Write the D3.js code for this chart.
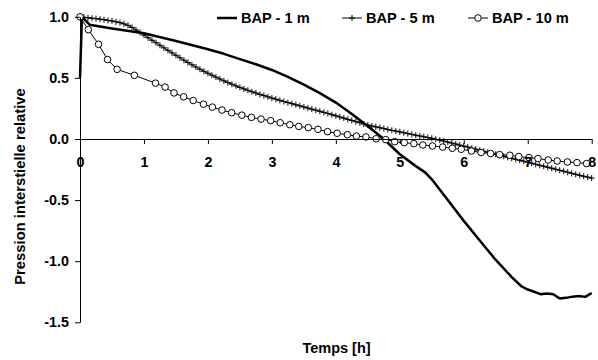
<!DOCTYPE html>
<html><head><meta charset="utf-8">
<script src="https://cdn.jsdelivr.net/npm/d3@7"></script>
<style>
html,body{margin:0;padding:0;background:#fff;}
svg{display:block;font-family:"Liberation Sans",Arial,sans-serif;font-weight:bold;}
</style></head>
<body>
<svg id="c" width="598" height="360"></svg>
<script>
// ---- data ----
const seriesNames = ["BAP - 1 m", "BAP - 5 m", "BAP - 10 m"];
const xTicks = [0, 1, 2, 3, 4, 5, 6, 7, 8];
const yTicks = [-1.5, -1.0, -0.5, 0.0, 0.5, 1.0];
const yTickLabels = ["-1.5", "-1.0", "-0.5", "0.0", "0.5", "1.0"];
const xTitle = "Temps [h]";
const yTitle = "Pression interstielle relative";

// BAP - 1 m (solid thick line)
const t1 = [0, 0.03, 0.15, 0.5, 1.0, 1.5, 2.0, 2.25, 2.5, 2.75, 3.0, 3.25, 3.5, 3.75, 4.0, 4.25, 4.5, 4.75, 5.0, 5.25, 5.4, 5.5, 5.75, 6.0, 6.25, 6.5, 6.75, 6.9, 7.0, 7.1, 7.2, 7.3, 7.4, 7.5, 7.6, 7.7, 7.8, 7.9, 8.0];
const v1 = [0.5, 1.0, 0.935, 0.905, 0.865, 0.802, 0.734, 0.697, 0.654, 0.612, 0.565, 0.508, 0.445, 0.375, 0.298, 0.205, 0.105, 0.0, -0.125, -0.222, -0.275, -0.33, -0.5, -0.67, -0.83, -0.99, -1.13, -1.205, -1.232, -1.25, -1.27, -1.265, -1.27, -1.305, -1.3, -1.29, -1.285, -1.292, -1.26];

// BAP - 5 m (plus markers, one reading every 1/16 h)
const t5Step = 0.0625;
const v5 = [1.000, 0.996, 0.992, 0.988, 0.985, 0.981, 0.976, 0.971,
  0.966, 0.959, 0.952, 0.942, 0.930, 0.913, 0.893, 0.872,
  0.850, 0.829, 0.808, 0.788, 0.767, 0.746, 0.726, 0.705,
  0.685, 0.665, 0.645, 0.626, 0.607, 0.589, 0.571, 0.554,
  0.538, 0.522, 0.506, 0.491, 0.476, 0.462, 0.448, 0.435,
  0.422, 0.410, 0.398, 0.387, 0.376, 0.365, 0.355, 0.345,
  0.335, 0.326, 0.316, 0.307, 0.298, 0.289, 0.280, 0.271,
  0.262, 0.253, 0.244, 0.236, 0.227, 0.218, 0.209, 0.199,
  0.190, 0.180, 0.171, 0.161, 0.152, 0.142, 0.133, 0.123,
  0.114, 0.106, 0.099, 0.092, 0.085, 0.078, 0.071, 0.065,
  0.058, 0.051, 0.044, 0.038, 0.031, 0.025, 0.018, 0.012,
  0.006, -0.002, -0.009, -0.017, -0.025, -0.033, -0.041, -0.050,
  -0.058, -0.066, -0.075, -0.083, -0.092, -0.100, -0.108, -0.117,
  -0.125, -0.133, -0.141, -0.150, -0.158, -0.166, -0.174, -0.182,
  -0.190, -0.198, -0.207, -0.215, -0.223, -0.231, -0.239, -0.248,
  -0.256, -0.264, -0.272, -0.281, -0.289, -0.297, -0.305, -0.312,
  -0.320];

// BAP - 10 m (open circles)
const t10 = [0, 0.13, 0.29, 0.43, 0.58, 0.85, 1.18, 1.33, 1.47, 1.62, 1.77, 1.93, 2.07, 2.22, 2.37, 2.53, 2.68, 2.83, 2.98, 3.13, 3.28, 3.42, 3.57, 3.72, 3.87, 4.02, 4.18, 4.32, 4.47, 4.63, 4.78, 4.92, 5.07, 5.22, 5.36, 5.51, 5.67, 5.82, 5.96, 6.12, 6.27, 6.42, 6.56, 6.72, 6.86, 7.02, 7.16, 7.32, 7.46, 7.62, 7.77, 7.92];
const v10 = [1.0, 0.895, 0.775, 0.65, 0.57, 0.521, 0.457, 0.425, 0.377, 0.345, 0.315, 0.285, 0.261, 0.237, 0.215, 0.195, 0.177, 0.163, 0.15, 0.133, 0.117, 0.103, 0.093, 0.079, 0.06, 0.047, 0.035, 0.024, 0.017, 0.002, -0.005, -0.022, -0.03, -0.038, -0.049, -0.057, -0.066, -0.076, -0.084, -0.098, -0.111, -0.119, -0.128, -0.133, -0.144, -0.152, -0.16, -0.172, -0.18, -0.188, -0.193, -0.201];

// ---- build ----
const s1 = t1.map((t, i) => ({t, v: v1[i]}));
const s5 = v5.map((v, i) => ({t: i * t5Step, v}));
const s10 = t10.map((t, i) => ({t, v: v10[i]}));

const svg = d3.select("#c");
const x = d3.scaleLinear().domain([0, 8]).range([80, 591.7]);
const y = d3.scaleLinear().domain([-1.5, 1]).range([322.3, 16.8]);
const line = d3.line().x(d => x(d.t)).y(d => y(d.v));

// series
svg.append("path").datum(s1).attr("d", line)
  .attr("fill", "none").attr("stroke", "#000").attr("stroke-width", 2.5).attr("stroke-linejoin", "round");

svg.append("path").datum(s5).attr("d", line)
  .attr("fill", "none").attr("stroke", "#000").attr("stroke-width", 1);
const plus = (g, px, py) => g.append("path")
  .attr("d", `M${px - 3},${py}H${px + 3}M${px},${py - 3}V${py + 3}`)
  .attr("stroke", "#000").attr("stroke-width", 1).attr("fill", "none");
const pg = svg.append("g");
s5.forEach(d => plus(pg, x(d.t), y(d.v)));

svg.append("path").datum(s10).attr("d", line)
  .attr("fill", "none").attr("stroke", "#000").attr("stroke-width", 1);
svg.append("g").selectAll("circle").data(s10).join("circle")
  .attr("cx", d => x(d.t)).attr("cy", d => y(d.v)).attr("r", 3.3)
  .attr("fill", "#fff").attr("stroke", "#000").attr("stroke-width", 1);

// axes
const yAxis = d3.axisLeft(y).tickValues(yTicks)
  .tickFormat((d, i) => yTickLabels[i]).tickSize(5).tickSizeOuter(0).tickPadding(6);
const gy = svg.append("g").attr("transform", "translate(80,0)").call(yAxis);
const xAxis = d3.axisBottom(x).tickValues(xTicks).tickFormat(d => String(d))
  .tickSize(5).tickSizeOuter(0).tickPadding(13);
const gx = svg.append("g").attr("transform", `translate(0,${y(0)})`).call(xAxis);
[gx, gy].forEach(g => {
  g.selectAll("text").attr("font-size", 14.3).attr("font-weight", "bold")
    .attr("font-family", "Liberation Sans, Arial, sans-serif").attr("fill", "#000");
  g.selectAll("line,path").attr("stroke", "#000").attr("stroke-width", 1);
});

// titles
svg.append("text").attr("x", 336.5).attr("y", 353).attr("text-anchor", "middle")
  .attr("font-size", 14.5).text(xTitle);
svg.append("text").attr("transform", "translate(25,186.5) rotate(-90)")
  .attr("text-anchor", "middle").attr("font-size", 14.8).text(yTitle);

// legend
const legX = [217, 342, 468];
const lg = svg.append("g");
seriesNames.forEach((name, i) => {
  const x0 = legX[i], ly = 18;
  lg.append("line").attr("x1", x0).attr("x2", x0 + 20).attr("y1", ly).attr("y2", ly)
    .attr("stroke", "#000").attr("stroke-width", i === 0 ? 2.5 : 1);
  if (i === 1) plus(lg, x0 + 10, ly);
  if (i === 2) lg.append("circle").attr("cx", x0 + 10).attr("cy", ly).attr("r", 3.3)
    .attr("fill", "#fff").attr("stroke", "#000");
  lg.append("text").attr("x", x0 + 24).attr("y", ly + 5).attr("font-size", 14.6).text(name);
});
</script>
</body></html>
